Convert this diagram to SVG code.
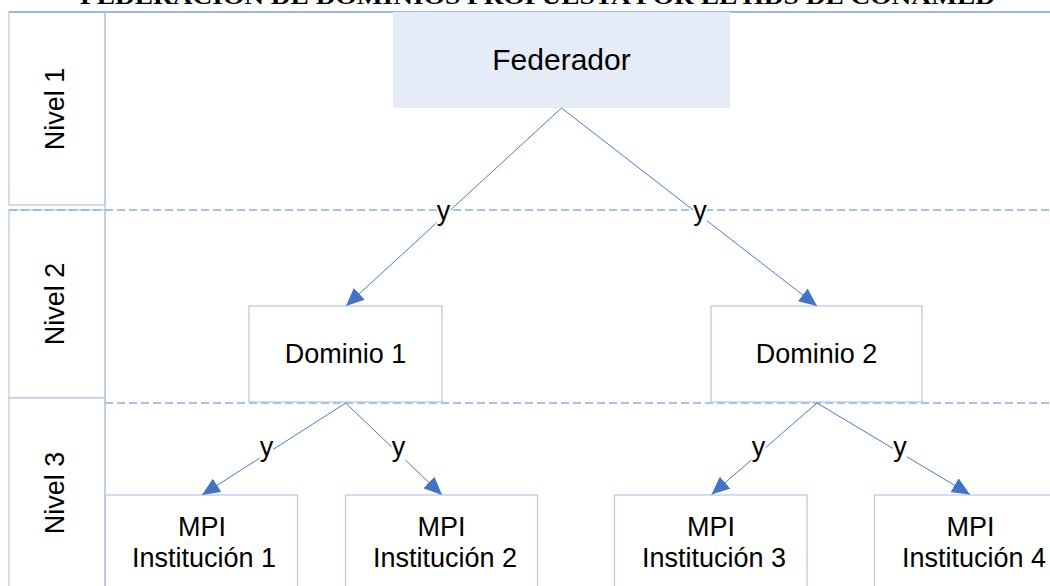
<svg xmlns="http://www.w3.org/2000/svg" width="1050" height="586" viewBox="0 0 1050 586">
  <style>
    text { font-family: "Liberation Sans", Arial, sans-serif; fill: #000; }
    .title { font-family: "Liberation Serif", "Times New Roman", serif; font-weight: bold; font-size: 24px; }
    .lbl { font-size: 27px; text-anchor: middle; }
    .big { font-size: 30px; text-anchor: middle; }
    .col { fill: #fff; stroke: #b4c7e7; stroke-width: 1.2; }
    .box { fill: #fff; stroke: #b4c7e7; stroke-width: 1.2; }
    .sep { stroke: #8eaadb; stroke-width: 1.3; stroke-dasharray: 8 4; fill: none; }
    .edge { stroke: #4a7bc8; stroke-width: 1; fill: none; marker-end: url(#arrow); }
    .bg { fill: #fff; }
  </style>
  <defs>
    <marker id="arrow" markerUnits="userSpaceOnUse" markerWidth="18" markerHeight="16" refX="18" refY="8" orient="auto">
      <path d="M0,0 L18,8 L0,16 z" fill="#4472c4"/>
    </marker>
  </defs>

  <rect width="1050" height="586" fill="#fff"/>

  <!-- heading, clipped by the top edge -->
  <text class="title" x="80" y="3.5" textLength="915" lengthAdjust="spacingAndGlyphs">FEDERACIÓN DE DOMINIOS PROPUESTA POR EL HDS DE CONAMED</text>

  <!-- frame and level columns -->
  <g id="frame">
    <rect class="col" x="9" y="12" width="96" height="193"/>
    <rect class="col" x="9" y="210" width="96" height="188"/>
    <rect class="col" x="9" y="398" width="96" height="200"/>
    <line x1="105" y1="12" x2="105" y2="586" stroke="#b4c7e7" stroke-width="1.2"/>
    <line x1="9" y1="12" x2="1050" y2="12" stroke="#9fb6de" stroke-width="2"/>
  </g>

  <g id="level-labels">
    <g id="nivel1"><text class="lbl" transform="translate(64,109) rotate(-90)">Nivel 1</text></g>
    <g id="nivel2"><text class="lbl" transform="translate(64,304) rotate(-90)">Nivel 2</text></g>
    <g id="nivel3"><text class="lbl" transform="translate(64,493) rotate(-90)">Nivel 3</text></g>
  </g>

  <!-- level separators -->
  <g id="separators">
    <line class="sep" x1="9" y1="210" x2="1050" y2="210"/>
    <line class="sep" x1="105" y1="403" x2="1050" y2="403"/>
  </g>

  <!-- nodes -->
  <g id="federador">
    <rect x="393" y="12" width="337" height="96" fill="#e6ecf7"/>
    <text class="big" x="561.5" y="69.5">Federador</text>
  </g>
  <g id="dominio1">
    <rect class="box" x="249" y="306" width="193" height="96"/>
    <text class="lbl" x="345.5" y="363">Dominio 1</text>
  </g>
  <g id="dominio2">
    <rect class="box" x="711" y="306" width="211" height="96"/>
    <text class="lbl" x="816.5" y="363">Dominio 2</text>
  </g>
  <g id="mpi1">
    <rect class="box" x="105.5" y="495" width="192" height="110"/>
    <text class="lbl" x="202" y="536">MPI</text>
    <text class="lbl" x="204" y="567">Institución 1</text>
  </g>
  <g id="mpi2">
    <rect class="box" x="345.5" y="495" width="192" height="110"/>
    <text class="lbl" x="441.5" y="536">MPI</text>
    <text class="lbl" x="445" y="567">Institución 2</text>
  </g>
  <g id="mpi3">
    <rect class="box" x="614.5" y="495" width="192.5" height="110"/>
    <text class="lbl" x="711" y="536">MPI</text>
    <text class="lbl" x="714" y="567">Institución 3</text>
  </g>
  <g id="mpi4">
    <rect class="box" x="874.5" y="495" width="192" height="110"/>
    <text class="lbl" x="970.5" y="536">MPI</text>
    <text class="lbl" x="974" y="567">Institución 4</text>
  </g>

  <!-- connectors with their "y" labels -->
  <g id="connectors">
    <line class="edge" x1="561.5" y1="108" x2="346" y2="306"/>
    <line class="edge" x1="561.5" y1="108" x2="817" y2="306"/>
    <line class="edge" x1="345.7" y1="403" x2="202" y2="495"/>
    <line class="edge" x1="345.7" y1="403" x2="442" y2="495"/>
    <line class="edge" x1="817" y1="403" x2="711.5" y2="494.5"/>
    <line class="edge" x1="817" y1="403" x2="970" y2="494.5"/>

    <rect class="bg" x="436.5" y="203" width="14" height="23"/>
    <text class="lbl" x="443.5" y="219.5">y</text>
    <rect class="bg" x="693" y="203" width="14" height="23"/>
    <text class="lbl" x="700" y="219.5">y</text>

    <rect class="bg" x="259.5" y="439" width="14" height="23"/>
    <text class="lbl" x="266.5" y="456">y</text>
    <rect class="bg" x="391.5" y="439" width="14" height="23"/>
    <text class="lbl" x="398.5" y="456">y</text>
    <rect class="bg" x="751.5" y="439" width="14" height="23"/>
    <text class="lbl" x="758.5" y="456">y</text>
    <rect class="bg" x="893" y="439" width="14" height="23"/>
    <text class="lbl" x="900" y="456">y</text>
  </g>
</svg>
